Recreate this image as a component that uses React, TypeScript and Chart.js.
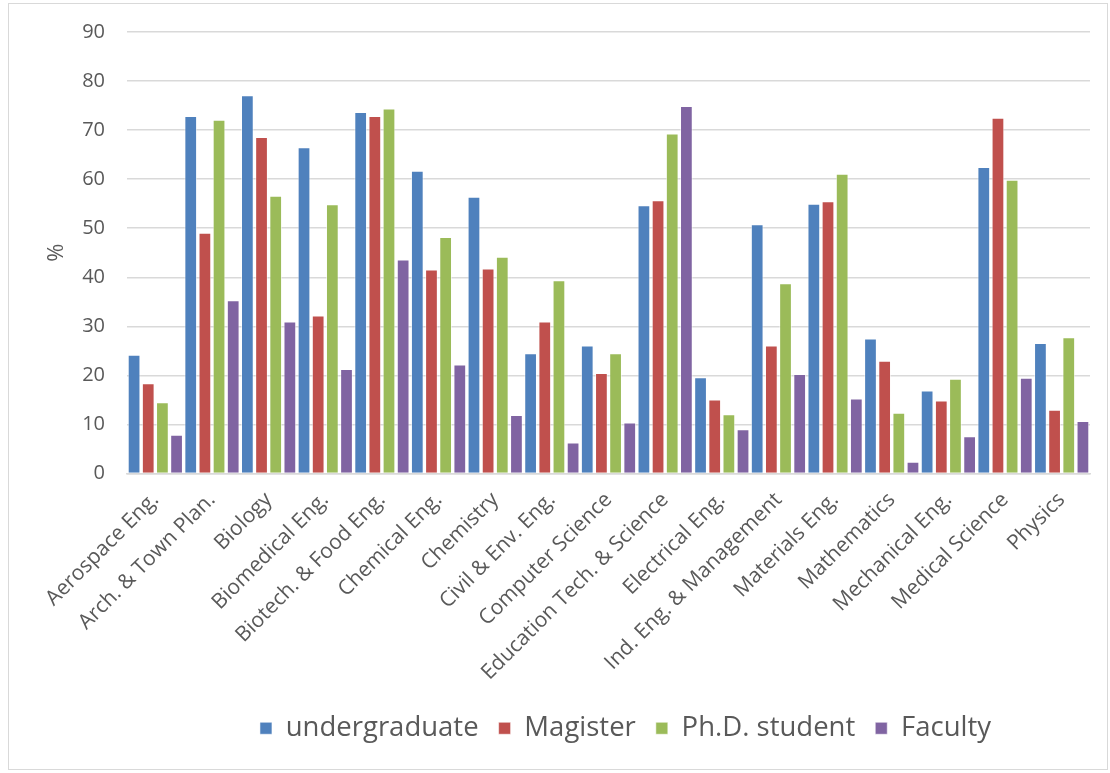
import React, { useEffect, useRef } from "react";
import { Chart, registerables } from "chart.js";

Chart.register(...registerables);

const categories = [
  "Aerospace Eng.",
  "Arch. & Town Plan.",
  "Biology",
  "Biomedical Eng.",
  "Biotech. & Food Eng.",
  "Chemical Eng.",
  "Chemistry",
  "Civil & Env. Eng.",
  "Computer Science",
  "Education Tech. & Science",
  "Electrical Eng.",
  "Ind. Eng. & Management",
  "Materials Eng.",
  "Mathematics",
  "Mechanical Eng.",
  "Medical Science",
  "Physics",
];

const undergraduate = [24.2, 72.9, 77.1, 66.5, 73.7, 61.7, 56.4, 24.5, 26.1, 54.7, 19.6, 50.8, 55.0, 27.5, 16.9, 62.5, 26.6];
const magister = [18.4, 49.1, 68.6, 32.2, 72.9, 41.6, 41.8, 31.0, 20.5, 55.7, 15.1, 26.1, 55.5, 23.0, 14.9, 72.5, 13.0];
const phdStudent = [14.5, 72.1, 56.6, 54.9, 74.4, 48.2, 44.2, 39.4, 24.5, 69.3, 12.1, 38.8, 61.1, 12.4, 19.3, 59.9, 27.8];
const faculty = [7.9, 35.3, 31.0, 21.3, 43.6, 22.2, 11.9, 6.3, 10.4, 74.9, 9.0, 20.3, 15.3, 2.4, 7.6, 19.5, 10.7];

const seriesNames = ["undergraduate", "Magister", "Ph.D. student", "Faculty"];
const seriesColors = ["#4F81BD", "#C0504D", "#9BBB59", "#8064A2"];

const FONT = "'Open Sans', 'Noto Sans', sans-serif";
const TEXT = "#595959";

// Shift the legend horizontally so it sits right of centre, as in the reference.
const legendShift = {
  id: "legendShift",
  afterLayout(chart: any) {
    const lg = chart.legend;
    if (lg) {
      lg.left += 76;
      lg.right += 76;
    }
  },
};

export default function App() {
  const canvasRef = useRef<HTMLCanvasElement | null>(null);

  useEffect(() => {
    if (!canvasRef.current) return;
    const values = [undergraduate, magister, phdStudent, faculty];
    const chart = new Chart(canvasRef.current, {
      type: "bar",
      data: {
        labels: categories,
        datasets: values.map((v, i) => ({
          label: seriesNames[i],
          data: v,
          backgroundColor: seriesColors[i],
          borderColor: "rgba(255,255,255,0.55)",
          borderWidth: 1,
          barPercentage: 0.9,
          categoryPercentage: 1.0,
        })),
      },
      plugins: [legendShift],
      options: {
        animation: false,
        responsive: false,
        maintainAspectRatio: false,
        layout: { padding: { left: 0, right: 17, top: 28, bottom: 17 } },
        plugins: {
          legend: {
            position: "bottom",
            labels: {
              color: TEXT,
              font: { family: FONT, size: 27.5 },
              boxWidth: 12,
              boxHeight: 12,
              padding: 20,
            },
          },
          tooltip: { enabled: false },
        },
        scales: {
          x: {
            grid: { display: false },
            border: { color: "#D9D9D9", width: 1.5 },
            ticks: {
              color: TEXT,
              font: { family: FONT, size: 21 },
              minRotation: 45,
              maxRotation: 45,
              autoSkip: false,
              padding: 6,
            },
            afterFit: (scale: any) => {
              scale.height = 221;
            },
          },
          y: {
            min: 0,
            max: 90,
            ticks: {
              stepSize: 10,
              color: TEXT,
              font: { family: FONT, size: 20 },
              padding: 22,
            },
            grid: { color: "#D9D9D9", lineWidth: 1.5, drawTicks: false },
            border: { display: false },
            title: {
              display: true,
              text: "%",
              color: TEXT,
              font: { family: FONT, size: 22 },
              padding: { top: 35, bottom: 0 },
            },
            afterFit: (scale: any) => {
              scale.width = 118;
              scale.paddingTop = 0;
              scale.paddingBottom = 0;
            },
          },
        },
      },
    });
    return () => chart.destroy();
  }, []);

  return (
    <div
      style={{
        position: "absolute",
        left: 8,
        top: 3,
        width: 1098,
        height: 765,
        border: "1px solid #D9D9D9",
        background: "#fff",
      }}
    >
      <canvas ref={canvasRef} width={1098} height={765} style={{ display: "block" }} />
    </div>
  );
}
